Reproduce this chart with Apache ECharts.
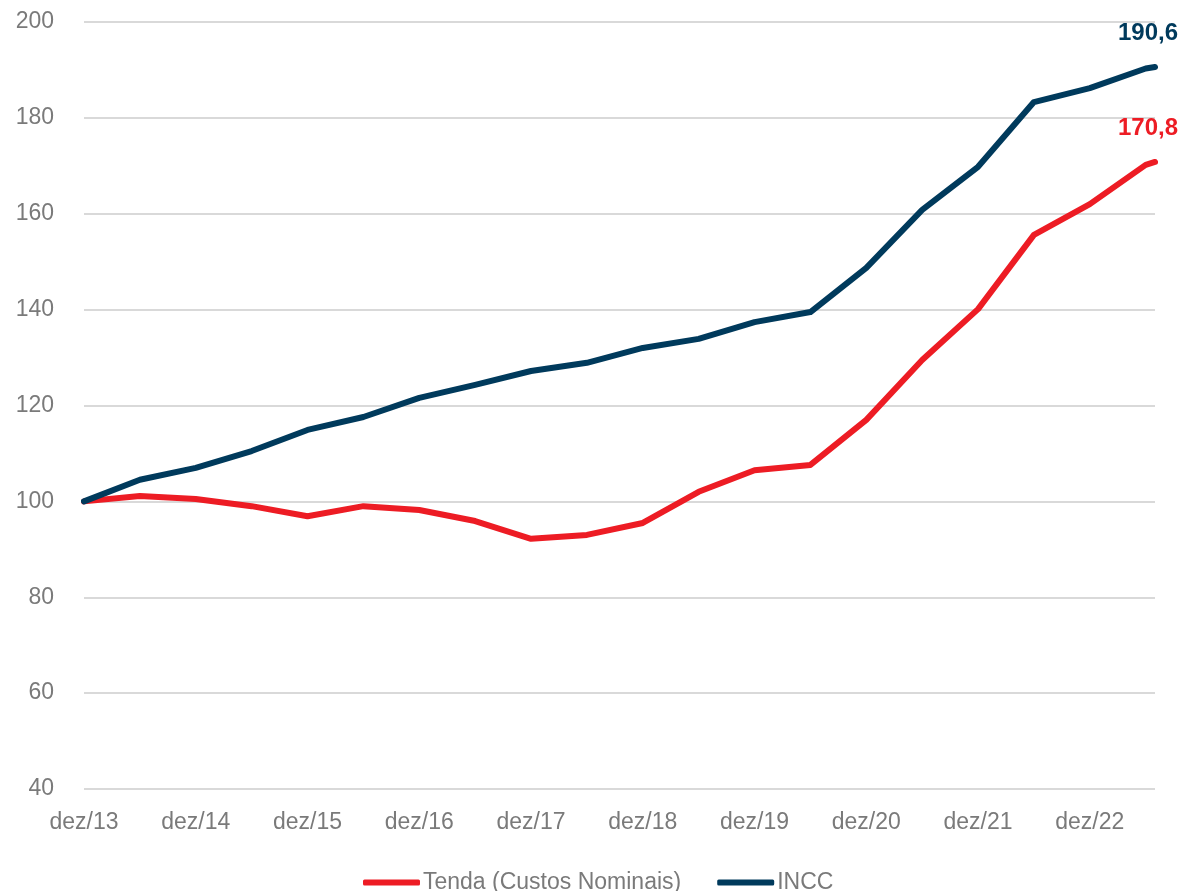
<!DOCTYPE html>
<html>
<head>
<meta charset="utf-8">
<script src="https://cdn.jsdelivr.net/npm/echarts@6/dist/echarts.min.js"></script>
<style>
  html, body { margin: 0; padding: 0; background: #fff; }
  #chart { width: 1185px; height: 891px; }
</style>
</head>
<body>
<div id="chart"></div>
<script>
// semi-annual points, plus the last month available
const pointDates = [
  'dez/13', 'jun/14', 'dez/14', 'jun/15', 'dez/15', 'jun/16', 'dez/16', 'jun/17',
  'dez/17', 'jun/18', 'dez/18', 'jun/19', 'dez/19', 'jun/20', 'dez/20', 'jun/21',
  'dez/21', 'jun/22', 'dez/22', 'jun/23', 'jul/23'
]
const tendaValues = [
  100, 101.1, 100.5, 99.0, 96.9, 99.0, 98.2, 95.9,
  92.2, 93.0, 95.5, 102.0, 106.5, 107.6, 117.0, 129.5,
  140.1, 155.6, 162.0, 170.2, 170.8
]
const inccValues = [
  100, 104.5, 107.0, 110.5, 114.9, 117.6, 121.6, 124.3,
  127.2, 128.9, 132.0, 133.9, 137.4, 139.5, 148.7, 160.8,
  169.8, 183.3, 186.2, 190.3, 190.6
]
const yTicks = { min: 40, max: 200, step: 20 }

// monthly category axis dez/13 .. jul/23
const monthNames = ['jan', 'fev', 'mar', 'abr', 'mai', 'jun', 'jul', 'ago', 'set', 'out', 'nov', 'dez']
const months = []
for (let y = 2013, m = 11; y < 2023 || (y === 2023 && m <= 6); m++) {
  if (m === 12) { m = 0; y++ }
  months.push(monthNames[m] + '/' + String(y).slice(2))
}

const gray = '#7a7a7a'
const red = '#ED1C24'
const navy = '#003A5C'

function lineSeries(name, values, color) {
  return {
    name: name,
    type: 'line',
    data: values.map((v, i) => [pointDates[i], v]),
    showSymbol: false,
    symbol: 'none',
    lineStyle: { color: color, width: 6, cap: 'round', join: 'round' },
    itemStyle: { color: color },
    endLabel: {
      show: true,
      formatter: (p) => p.value[1].toFixed(1).replace('.', ','),
      color: color,
      fontWeight: 'bold',
      fontSize: 24,
      fontFamily: 'Liberation Sans',
      align: 'center',
      verticalAlign: 'middle',
      distance: 0,
      offset: [-7, -34],
    },
  }
}

const chart = echarts.init(document.getElementById('chart'))
chart.setOption({
  animation: false,
  textStyle: { fontFamily: 'Liberation Sans' },
  grid: { left: 84, right: 30, top: 22, bottom: 102 },
  legend: {
    left: 358,
    top: 866,
    itemGap: 36,
    itemWidth: 57,
    itemHeight: 6,
    icon: 'roundRect',
    textStyle: { color: gray, fontSize: 23, padding: [0, 0, 0, -2] },
    data: ['Tenda (Custos Nominais)', 'INCC'],
  },
  xAxis: {
    type: 'category',
    data: months,
    boundaryGap: false,
    axisLine: { show: false },
    axisTick: { show: false },
    axisLabel: {
      color: gray,
      fontSize: 23,
      margin: 22,
      interval: (i) => i % 12 === 0,
    },
    splitLine: { show: false },
  },
  yAxis: {
    type: 'value',
    min: yTicks.min,
    max: yTicks.max,
    interval: yTicks.step,
    axisLine: { show: false },
    axisTick: { show: false },
    axisLabel: { color: gray, fontSize: 23, margin: 30 },
    splitLine: { lineStyle: { color: '#d9d9d9', width: 2 } },
  },
  series: [
    lineSeries('Tenda (Custos Nominais)', tendaValues, red),
    lineSeries('INCC', inccValues, navy),
  ],
})
</script>
</body>
</html>
